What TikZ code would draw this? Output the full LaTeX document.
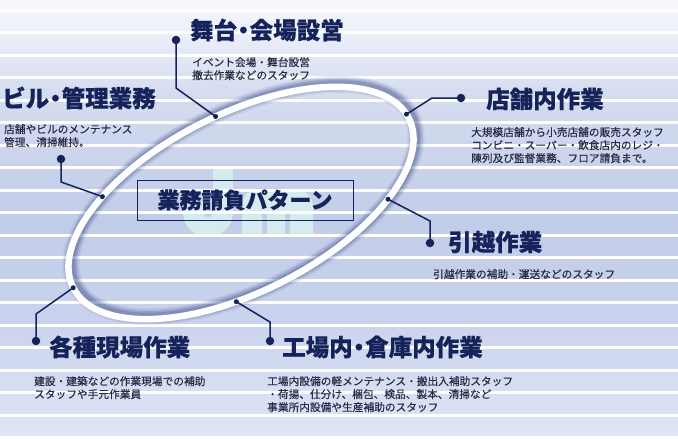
\documentclass[tikz,border=0pt]{standalone}
\usepackage{fontspec}
\newfontfamily\jp{Noto Sans CJK JP}
\newfontfamily\jph[BoldFeatures={FakeBold=0.6}]{Noto Sans CJK JP}
\newfontfamily\jpd[FakeBold=0.25]{Noto Sans CJK JP}
\usetikzlibrary{calc}
\definecolor{navy}{RGB}{22,34,90}
\definecolor{desccol}{RGB}{38,42,68}
\definecolor{bgA}{RGB}{248,249,253}
\definecolor{bgB}{RGB}{214,221,240}
\definecolor{bgC}{RGB}{194,204,232}
\definecolor{bgD}{RGB}{202,211,237}
\definecolor{bgE}{RGB}{224,230,246}
\definecolor{wm}{RGB}{212,236,238}
\definecolor{shadowc}{RGB}{46,62,128}
\newcommand\myndot{\kern-5.5pt・\kern-5.5pt}
\begin{document}
\begin{tikzpicture}[x=1pt,y=-1pt,
  stripe/.style={white, line width=3pt},
  head/.style={font=\jph\bfseries\fontsize{23.5}{28}\selectfont, text=navy, inner sep=0pt, anchor=west},
  desc/.style={font=\jpd\fontsize{10.7}{13}\selectfont, text=desccol, inner sep=0pt, anchor=north west, align=left},
  conn/.style={navy, line width=1.5pt},
  bigdot/.style={circle, fill=navy, inner sep=0pt, minimum size=8.5pt},
  smalldot/.style={circle, fill=navy, inner sep=0pt, minimum size=5pt},
  ringshadow/.style={shadowc, line width=#1},
  titlebox/.style={draw=navy, line width=1pt, minimum width=216pt, minimum height=40pt, inner sep=0pt,
     font=\jph\bfseries\fontsize{22}{26}\selectfont, text=navy}
]
\useasboundingbox (0,0) rectangle (678,439);
% background
\shade[top color=bgA, bottom color=bgB] (0,0) rectangle (678,90.5);
\shade[top color=bgB, bottom color=bgC] (0,90) rectangle (678,220.5);
\shade[top color=bgC, bottom color=bgD] (0,220) rectangle (678,320.5);
\shade[top color=bgD, bottom color=bgE] (0,320) rectangle (678,439);
% watermark
\draw[wm, line width=20pt] (223,166) -- (223,212) arc[start angle=0, end angle=180, radius=15] -- (193,202);
\fill[wm] (242,237) -- (242,205) .. controls (242,194) and (250,190) .. (262,190) -- (294,190)
  .. controls (306,190) and (313,196) .. (313,208) -- (313,237) -- (290,237) -- (290,211) -- (285,211)
  -- (285,237) -- (267,237) -- (267,211) -- (262,211) -- (262,237) -- cycle;
% stripes
\foreach \k in {0,...,19} \draw[stripe] (0,{10+22.5*\k}) -- (678,{10+22.5*\k});
% ring shadow (offset up-right)
\begin{scope}[shift={(243.5,200.5)}, rotate=26.8]
  \draw[ringshadow=17pt, opacity=0.08] (0,0) ellipse [x radius=188pt, y radius=89pt];
  \draw[ringshadow=14pt, opacity=0.12] (0,0) ellipse [x radius=188pt, y radius=89pt];
  \draw[ringshadow=11pt, opacity=0.16] (0,0) ellipse [x radius=188pt, y radius=89pt];
  \draw[ringshadow=8pt, opacity=0.2] (0,0) ellipse [x radius=188pt, y radius=89pt];
\end{scope}
% ring
\begin{scope}[shift={(241,203)}, rotate=26.8]
  \draw[white, line width=6.5pt] (0,0) ellipse [x radius=188pt, y radius=89pt];
  \coordinate (r1) at (85:188pt and 89pt);
  \coordinate (r2) at (130:188pt and 89pt);
  \coordinate (r3) at (3:188pt and 89pt);
  \coordinate (r4) at (-45:188pt and 89pt);
  \coordinate (r5) at (180:188pt and 89pt);
  \coordinate (r6) at (255:188pt and 89pt);
\end{scope}
% title box
\node[titlebox] (title) at (245,200) {業務請負パターン};
% headings
\node[head] (h1) at (190,30) {舞台\myndot 会場設営};
\node[head] (h2) at (2,98) {ビル\myndot 管理業務};
\node[head] (h3) at (486,99) {店舗内作業};
\node[head] (h4) at (448,242) {引越作業};
\node[head] (h5) at (49,347) {各種現場作業};
\node[head] (h6) at (282,347) {工場内\myndot 倉庫内作業};
% descriptions
\node[desc] (d1) at (192,57) {イベント会場・舞台設営\\撤去作業などのスタッフ};
\node[desc] (d2) at (4,124) {店舗やビルのメンテナンス\\管理、清掃維持。};
\node[desc] (d3) at (471,127) {大規模店舗から小売店舗の販売スタッフ\\コンビニ・スーパー・飲食店内のレジ・\\陳列及び監督業務、フロア請負まで。};
\node[desc] (d4) at (433,269) {引越作業の補助・運送などのスタッフ};
\node[desc] (d5) at (34,376) {建設・建築などの作業現場での補助\\スタッフや手元作業員};
\node[desc] (d6) at (267,376) {工場内設備の軽メンテナンス・搬出入補助スタッフ\\・荷揚、仕分け、梱包、検品、製本、清掃など\\事業所内設備や生産補助のスタッフ};
% dots
\node[bigdot] (b1) at (176,40) {};
\node[bigdot] (b2) at (61,159) {};
\node[bigdot] (b3) at (461,98) {};
\node[bigdot] (b4) at (430,243) {};
\node[bigdot] (b5) at (36,341) {};
\node[bigdot] (b6) at (270,341) {};
\node[smalldot] (s1) at (r1) {};
\node[smalldot] (s2) at (r2) {};
\node[smalldot] (s3) at (r3) {};
\node[smalldot] (s4) at (r4) {};
\node[smalldot] (s5) at (r5) {};
\node[smalldot] (s6) at (r6) {};
% connectors
\draw[conn] (b1.center) -- ++(0,48) -- (s1.center);
\draw[conn] (b2.center) -- ++(0,23) -- (s2.center);
\draw[conn] (b3.center) -- ++(-29,0) -- (s3.center);
\draw[conn] (b4.center) -- ++(0,-22) -- (s4.center);
\draw[conn] (b5.center) -- ++(0,-27) -- (s5.center);
\draw[conn] (b6.center) -- ++(0,-19) -- (s6.center);
\end{tikzpicture}
\end{document}
